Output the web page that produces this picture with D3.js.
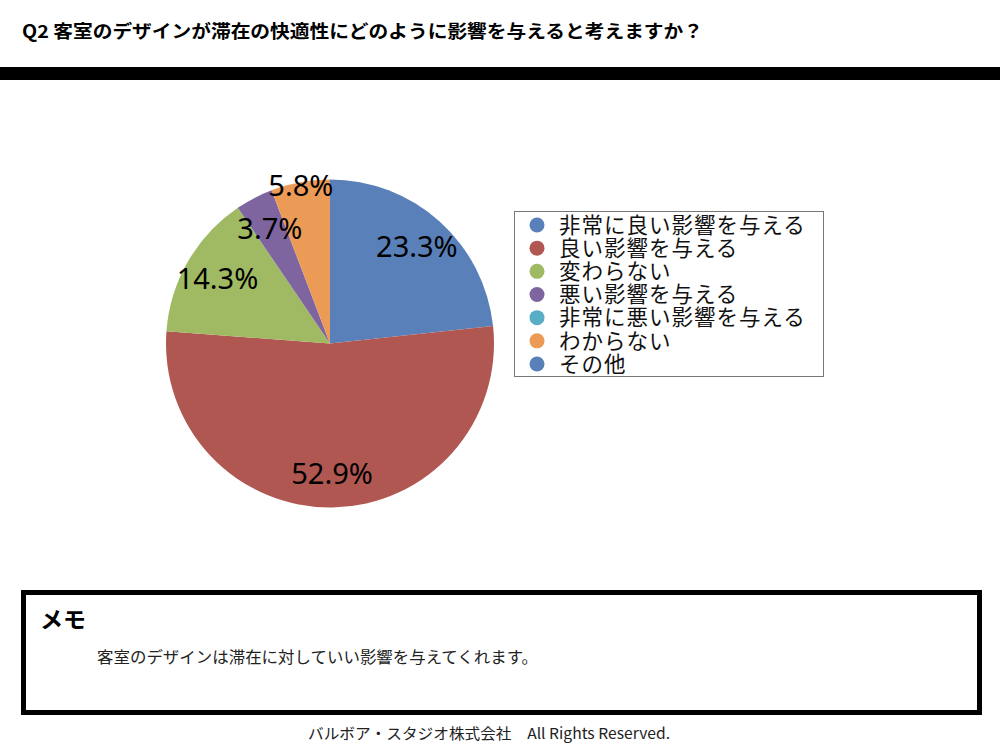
<!DOCTYPE html>
<html><head><meta charset="utf-8">
<script src="https://cdn.jsdelivr.net/npm/d3@7"></script>
<style>html,body{margin:0;padding:0;background:#fff;}svg{display:block;}</style>
</head><body>
<svg id="chart" width="1000" height="746"></svg>
<script>
const title = "Q2 客室のデザインが滞在の快適性にどのように影響を与えると考えますか？";
const categories = ["非常に良い影響を与える","良い影響を与える","変わらない","悪い影響を与える","非常に悪い影響を与える","わからない","その他"];
const values = [23.3, 52.9, 14.3, 3.7, 0, 5.8, 0];
const colors = ["#5a80b9","#b15751","#a0ba63","#7e65a0","#58aec6","#ec9b57","#5a80b9"];
const memoTitle = "メモ";
const memoText = "客室のデザインは滞在に対していい影響を与えてくれます。";
const footer = "バルボア・スタジオ株式会社　All Rights Reserved.";

const svg = d3.select("#chart");
const jp = "'Noto Sans CJK JP','Noto Sans',sans-serif";

svg.append("text").attr("x",22).attr("y",38).attr("font-family",jp).attr("font-weight","bold")
  .attr("font-size",18).attr("textLength",681).attr("lengthAdjust","spacingAndGlyphs").attr("fill","#000").text(title);
svg.append("rect").attr("x",0).attr("y",67).attr("width",1000).attr("height",13).attr("fill","#000");

// pie
const cx = 330, cy = 343.5, R = 164;
const pie = d3.pie().sort(null).value(d=>d)(values);
const arc = d3.arc().innerRadius(0).outerRadius(R);
const g = svg.append("g").attr("transform",`translate(${cx},${cy})`);
g.selectAll("path").data(pie.filter(d=>d.value>0)).join("path")
  .attr("d",arc).attr("fill",d=>colors[d.index]);
const labelR = i => (i===5 ? 161 : 130);
g.selectAll("text").data(pie.filter(d=>d.value>0)).join("text")
  .attr("transform",d=>{const a=(d.startAngle+d.endAngle)/2, r=labelR(d.index);return `translate(${Math.sin(a)*r},${-Math.cos(a)*r})`;})
  .attr("text-anchor","middle").attr("dy","0.36em")
  .attr("font-family","'Noto Sans',sans-serif").attr("font-size",29).attr("fill","#000")
  .text(d=>d3.format(".1f")(d.value)+"%");

// legend
const lg = svg.append("g");
lg.append("rect").attr("x",514.5).attr("y",211.5).attr("width",309).attr("height",165)
  .attr("fill","#fff").attr("stroke","#777").attr("stroke-width",1);
const ly = d3.scalePoint().domain(categories).range([225,364]);
categories.forEach((c,i)=>{
  lg.append("circle").attr("cx",537).attr("cy",ly(c)).attr("r",7.5).attr("fill",colors[i]);
  lg.append("text").attr("x",559).attr("y",ly(c)).attr("dy","0.36em").attr("font-family",jp)
    .attr("font-size",21.5).attr("letter-spacing",1.0).attr("fill","#111").text(c);
});

// memo
svg.append("rect").attr("x",23.5).attr("y",592.5).attr("width",956).attr("height",120)
  .attr("fill","none").attr("stroke","#000").attr("stroke-width",5);
svg.append("text").attr("x",40).attr("y",628).attr("font-family",jp).attr("font-weight","bold")
  .attr("font-size",23).attr("fill","#000").text(memoTitle);
svg.append("text").attr("x",97).attr("y",663).attr("font-family",jp)
  .attr("font-size",16).attr("textLength",441).attr("lengthAdjust","spacingAndGlyphs").attr("fill","#222").text(memoText);
svg.append("text").attr("x",308).attr("y",739).attr("font-family",jp)
  .attr("font-size",15).attr("textLength",362).attr("lengthAdjust","spacingAndGlyphs").attr("fill","#222").text(footer);
</script>
</body></html>
